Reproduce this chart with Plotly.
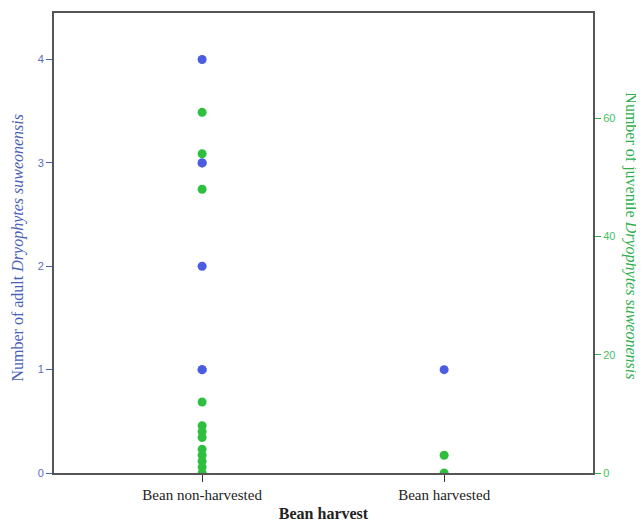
import plotly.graph_objects as go

categories = ["Bean non-harvested", "Bean harvested"]

# Adult counts (left axis)
adult_group = ["Bean non-harvested"] * 6 + ["Bean harvested"]
adult_values = [4, 3, 3, 2, 1, 1, 1]

# Juvenile counts (right axis)
juvenile_group = ["Bean non-harvested"] * 12 + ["Bean harvested"] * 2
juvenile_values = [61, 54, 48, 12, 8, 7, 6, 4, 3, 2, 1, 0, 3, 0]

left_ticks = [0, 1, 2, 3, 4]
right_ticks = [0, 20, 40, 60]

BLUE = "#4a5de0"
GREEN = "#2fbf3f"
BLUE_TXT = "#4a5fb8"
GREEN_TXT = "#2db04d"
SERIF = "Liberation Serif, Times New Roman, serif"
SANS = "Liberation Sans, Arial, sans-serif"

xpos = {c: i for i, c in enumerate(categories)}

fig = go.Figure()
fig.add_trace(go.Scatter(
    x=[xpos[g] for g in juvenile_group], y=juvenile_values, mode="markers",
    marker=dict(color=GREEN, size=9), yaxis="y", showlegend=False))
fig.add_trace(go.Scatter(
    x=[xpos[g] for g in adult_group], y=adult_values, mode="markers",
    marker=dict(color=BLUE, size=9), yaxis="y2", showlegend=False))

# the page body has an 8px margin, so the figure is sized/margined to compensate
fig.update_layout(
    width=636, height=518,
    margin=dict(l=46, r=51, t=5, b=53, autoexpand=False),
    plot_bgcolor="white", paper_bgcolor="white",
    xaxis=dict(
        automargin=False,
        range=[-0.612, 1.615], tickvals=list(range(len(categories))), ticktext=categories,
        showgrid=False, zeroline=False, showline=True, linecolor="#555555", linewidth=2,
        mirror=True, ticks="outside", ticklen=7, tickcolor="#333333", tickwidth=1,
        tickfont=dict(family=SERIF, size=15, color="#222222"),
        title=dict(text="<b>Bean harvest</b>", standoff=6,
                   font=dict(family=SERIF, size=16, color="#222222")),
    ),
    yaxis=dict(
        automargin=False,
        side="right", range=[0, 77.8], tickvals=right_ticks,
        showgrid=False, zeroline=False, showline=True, linecolor="#555555", linewidth=2,
        ticks="outside", ticklen=6, tickcolor=GREEN_TXT, tickwidth=1,
        tickfont=dict(family=SANS, size=11, color="#45c065"),
    ),
    yaxis2=dict(
        automargin=False,
        side="left", overlaying="y", range=[0, 4.45], tickvals=left_ticks,
        showgrid=False, zeroline=False, showline=True, linecolor="#555555", linewidth=2,
        ticks="outside", ticklen=6, tickcolor=BLUE_TXT, tickwidth=1,
        tickfont=dict(family=SANS, size=11, color="#5a6cc0"),
    ),
    annotations=[
        dict(text="Number of adult <i>Dryophytes suweonensis</i>", xref="paper", yref="paper",
             x=-0.067, y=0.49, xanchor="center", yanchor="middle", textangle=-90, showarrow=False,
             font=dict(family=SERIF, size=16, color=BLUE_TXT)),
        dict(text="Number of juvenile <i>Dryophytes suweonensis</i>", xref="paper", yref="paper",
             x=1.07, y=0.515, xanchor="center", yanchor="middle", textangle=90, showarrow=False,
             font=dict(family=SERIF, size=16, color=GREEN_TXT)),
    ],
)

fig.write_html("out.html")
